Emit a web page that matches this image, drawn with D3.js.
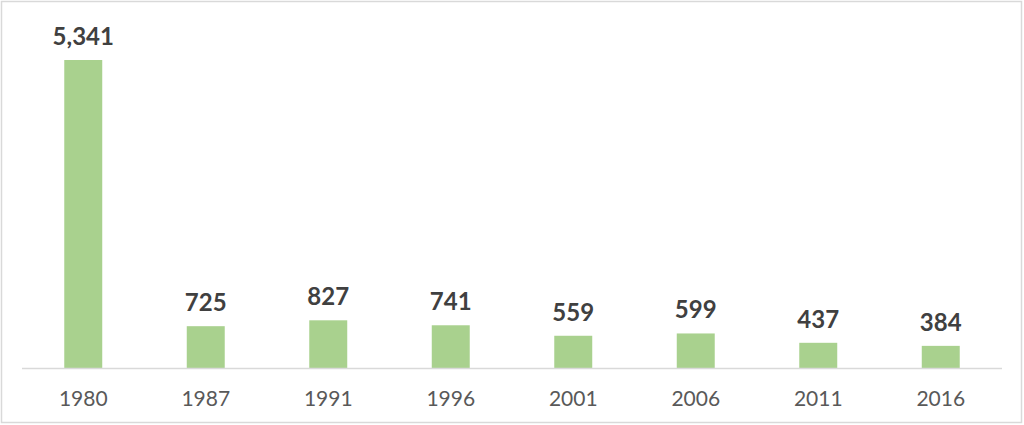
<!DOCTYPE html>
<html>
<head>
<meta charset="utf-8">
<script src="https://cdn.jsdelivr.net/npm/d3@7"></script>
<style>
  html, body { margin: 0; padding: 0; background: #fff; }
  svg { display: block; }
</style>
</head>
<body>
<script>
// data
var years = ["1980", "1987", "1991", "1996", "2001", "2006", "2011", "2016"];
var counts = [5341, 725, 827, 741, 559, 599, 437, 384];

var width = 1024, height = 425;
var baseY = 368, topY = 60;

var svg = d3.select("body")
  .append("svg")
  .attr("width", width)
  .attr("height", height);

// outer frame
svg.append("rect")
  .attr("x", 1.5).attr("y", 1.5)
  .attr("width", width - 4).attr("height", height - 4)
  .attr("fill", "#fff")
  .attr("stroke", "#d9d9d9")
  .attr("stroke-width", 1.5);

var x = d3.scaleBand()
  .domain(years)
  .range([22, 1002])
  .paddingInner(0.69)
  .paddingOuter(0.345);

var y = d3.scaleLinear()
  .domain([0, 5341])
  .range([baseY, topY]);

var rows = years.map(function(d, i) { return {year: d, v: counts[i]}; });

svg.append("g")
  .selectAll("rect")
  .data(rows)
  .enter().append("rect")
  .attr("x", function(d) { return x(d.year); })
  .attr("y", function(d) { return y(d.v); })
  .attr("width", x.bandwidth())
  .attr("height", function(d) { return baseY - y(d.v); })
  .attr("fill", "#a9d18e");

// baseline
svg.append("line")
  .attr("x1", 22).attr("x2", 1002)
  .attr("y1", baseY + 0.5).attr("y2", baseY + 0.5)
  .attr("stroke", "#d9d9d9")
  .attr("stroke-width", 1.5);

// value labels
var fmt = d3.format(",");
svg.append("g")
  .selectAll("text")
  .data(rows)
  .enter().append("text")
  .attr("x", function(d) { return x(d.year) + x.bandwidth() / 2; })
  .attr("y", function(d) { return y(d.v) - 15; })
  .attr("text-anchor", "middle")
  .attr("font-family", "Lato, 'Open Sans', sans-serif")
  .attr("font-weight", "bold")
  .attr("font-size", "24px")
  .attr("fill", "#404040")
  .text(function(d) { return fmt(d.v); });

// category labels
svg.append("g")
  .selectAll("text")
  .data(years)
  .enter().append("text")
  .attr("x", function(d) { return x(d) + x.bandwidth() / 2; })
  .attr("y", 406)
  .attr("text-anchor", "middle")
  .attr("font-family", "Lato, 'Open Sans', sans-serif")
  .attr("font-size", "21px")
  .attr("fill", "#595959")
  .text(function(d) { return d; });
</script>
</body>
</html>
